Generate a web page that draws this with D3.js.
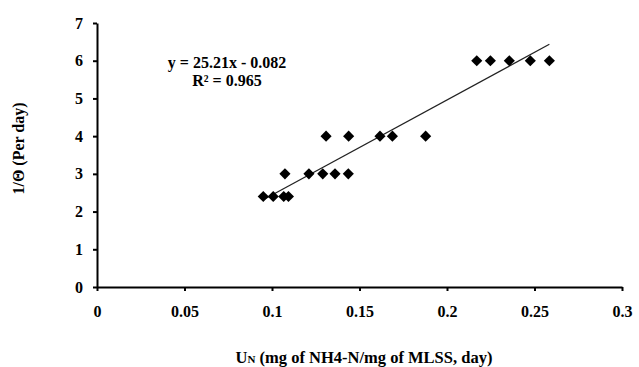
<!DOCTYPE html>
<html>
<head>
<meta charset="utf-8">
<script src="https://cdn.jsdelivr.net/npm/d3@7"></script>
<style>
  body { margin: 0; background: #fff; }
  text { font-family: "Liberation Serif", "Times New Roman", serif; font-weight: bold; fill: #000; }
</style>
</head>
<body>
<div id="chart"></div>
<script>
// Data
const uN = [0.095, 0.1007, 0.1067, 0.1094, 0.1074, 0.1211, 0.129, 0.136, 0.1436,
            0.1309, 0.1438, 0.1617, 0.1688, 0.1878, 0.217, 0.2248, 0.2356, 0.2476, 0.2585];
const invTheta = [2.4, 2.4, 2.4, 2.4, 3, 3, 3, 3, 3,
                  4, 4, 4, 4, 4, 6, 6, 6, 6, 6];
const xTicks = [0, 0.05, 0.1, 0.15, 0.2, 0.25, 0.3];
const yTicks = [0, 1, 2, 3, 4, 5, 6, 7];
const slope = 25.21, intercept = -0.082;
const eqLines = ["y = 25.21x - 0.082", "R² = 0.965"];

const width = 639, height = 367;
const margin = { left: 97, right: 17, top: 23, bottom: 80 };

const svg = d3.select("#chart").append("svg")
  .attr("width", width)
  .attr("height", height);

const x = d3.scaleLinear().domain([0, 0.3]).range([margin.left, width - margin.right]);
const y = d3.scaleLinear().domain([0, 7]).range([height - margin.bottom, margin.top]);

// Axes
const xAxis = svg.append("g")
  .attr("transform", `translate(0,${y(0)})`)
  .call(d3.axisBottom(x).tickValues(xTicks).tickSize(4).tickSizeOuter(0).tickPadding(15)
    .tickFormat(d => d === 0 ? "0" : String(+d.toFixed(2))));
xAxis.select(".domain").attr("stroke", "#000").attr("stroke-width", 2);
xAxis.selectAll(".tick line").attr("stroke", "#000").attr("stroke-width", 2);
xAxis.selectAll("text").attr("font-size", 16).attr("font-family", null);

const yAxis = svg.append("g")
  .attr("transform", `translate(${x(0)},0)`)
  .call(d3.axisLeft(y).tickValues(yTicks).tickSize(4).tickSizeOuter(0).tickPadding(10)
    .tickFormat(d3.format("d")));
yAxis.select(".domain").attr("stroke", "#000").attr("stroke-width", 2);
yAxis.selectAll(".tick line").attr("stroke", "#000").attr("stroke-width", 2);
yAxis.selectAll("text").attr("font-size", 16).attr("font-family", null);

// Trendline across the data range
const xMin = d3.min(uN), xMax = d3.max(uN);
svg.append("line")
  .attr("x1", x(xMin)).attr("y1", y(slope * xMin + intercept))
  .attr("x2", x(xMax)).attr("y2", y(slope * xMax + intercept))
  .attr("stroke", "#222")
  .attr("stroke-width", 1.2);

// Diamond markers
const diamond = d3.symbol().type(d3.symbolSquare).size(62);
svg.append("g")
  .selectAll("path")
  .data(uN.map((v, i) => [v, invTheta[i]]))
  .join("path")
  .attr("d", diamond)
  .attr("transform", d => `translate(${x(d[0])},${y(d[1])}) rotate(45)`)
  .attr("fill", "#000");

// Equation
svg.append("g").selectAll("text")
  .data(eqLines)
  .join("text")
  .attr("x", 227)
  .attr("y", (d, i) => 68 + i * 18)
  .attr("text-anchor", "middle")
  .attr("font-size", 16)
  .text(d => d);

// Axis titles
const xt = svg.append("text")
  .attr("x", 364)
  .attr("y", 363)
  .attr("text-anchor", "middle")
  .attr("font-size", 16.5);
xt.append("tspan").text("U");
xt.append("tspan").attr("font-size", 11).text("N");
xt.append("tspan").text(" (mg of NH4-N/mg of MLSS, day)");

svg.append("text")
  .attr("transform", `translate(24,148.5) rotate(-90)`)
  .attr("text-anchor", "middle")
  .attr("font-size", 16)
  .text("1/Θ (Per day)");
</script>
</body>
</html>
